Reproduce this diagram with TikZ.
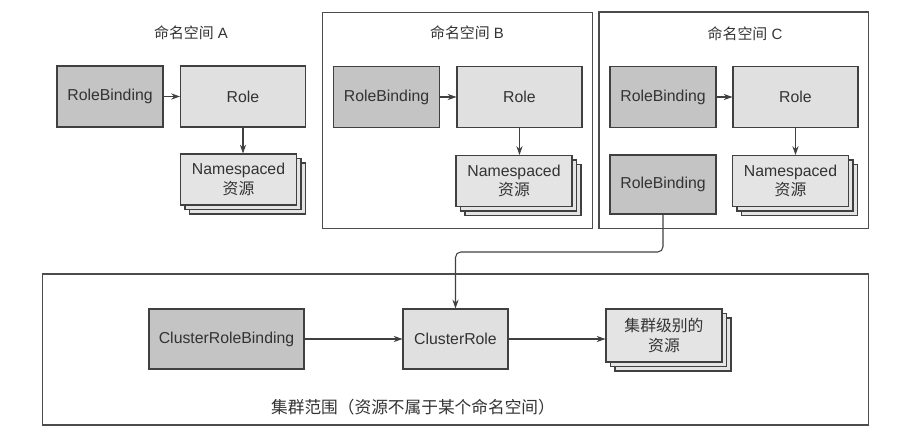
\documentclass[tikz,border=0pt]{standalone}
\usepackage{fontspec}
\setmainfont{Liberation Sans}
\newfontfamily\cjk{Noto Sans CJK SC}
\usetikzlibrary{arrows.meta,shadows}

\definecolor{inkgray}{HTML}{333333}
\definecolor{bindfill}{HTML}{C4C4C4}
\definecolor{rolefill}{HTML}{E0E0E0}
\definecolor{resfill}{HTML}{E4E4E4}

\tikzset{
  box/.style={draw=black!75,line width=0.6pt,text=inkgray,inner sep=0pt,
    align=center,font=\fontsize{9}{11}\selectfont},
  binding/.style={box,fill=bindfill,minimum width=2.12cm,minimum height=1.22cm},
  role/.style={box,fill=rolefill,minimum width=2.5cm,minimum height=1.22cm},
  sheet/.style={shadow scale=1,shadow xshift=#1,shadow yshift=-#1,
    fill=resfill,draw=black!75,line width=0.6pt},
  res/.style={box,fill=resfill,minimum width=2.32cm,minimum height=1.02cm,
    general shadow={sheet=0.18cm},general shadow={sheet=0.09cm}},
  area/.style={draw=black!70,line width=0.8pt,inner sep=0pt},
  nstitle/.style={text=inkgray,font=\fontsize{8.5}{10}\selectfont},
  link/.style={->,color=black!75,line width=0.6pt},
}

\begin{document}
\begin{tikzpicture}[x=0.02cm,y=-0.02cm,>={Stealth[length=5pt,width=3.5pt]}]
  \useasboundingbox (0,0) rectangle (916,439);
  % namespace and cluster frames
  \node[area,minimum width=5.4cm,minimum height=4.32cm] (NSB) at (457.7,120.3) {};
  \node[area,minimum width=5.39cm,minimum height=4.33cm] (NSC) at (733.8,120.3) {};
  \node[area,minimum width=16.52cm,minimum height=3.02cm] (CLU) at (455.7,349.5) {};
  \node[nstitle] (TA) at (191,33) {{\cjk 命名空间} A};
  \node[nstitle] (TB) at (467,33) {{\cjk 命名空间} B};
  \node[nstitle] (TC) at (745,34) {{\cjk 命名空间} C};

  % namespace A
  \node[binding] (RBA) at (110,96.5) {RoleBinding};
  \node[role] (RA) at (243,96.5) {Role};
  \node[res] (NA) at (238.5,179.5) {Namespaced\\{\cjk 资源}};
  % namespace B
  \node[binding] (RBB) at (386.5,97) {RoleBinding};
  \node[role] (RB) at (519.5,97) {Role};
  \node[res] (NB) at (514,181) {Namespaced\\{\cjk 资源}};
  % namespace C
  \node[binding] (RBC) at (663,97) {RoleBinding};
  \node[role] (RC) at (795.5,97) {Role};
  \node[binding,minimum height=1.18cm] (RBC2) at (663,184.5) {RoleBinding};
  \node[res] (NC) at (790.5,181) {Namespaced\\{\cjk 资源}};

  % cluster level
  \node[binding,minimum width=3.1cm,minimum height=1.2cm] (CRB) at (226.5,339) {ClusterRoleBinding};
  \node[role,minimum width=2.1cm,minimum height=1.2cm] (CR) at (455.5,339) {ClusterRole};
  \node[res,minimum height=1.06cm] (CRES) at (664,335.5) {{\cjk 集群级别的}\\{\cjk 资源}};
  \node[nstitle,font=\fontsize{9.5}{11}\selectfont] (CLT) at (413,407)
    {\cjk 集群范围（资源不属于某个命名空间）};

  \path[link] (RBA) edge (RA) (RA.south) edge (RA.south |- NA.north);
  \path[link] (RBB) edge (RB) (RB.south) edge (RB.south |- NB.north);
  \path[link] (RBC) edge (RC) (RC.south) edge (RC.south |- NC.north);
  \path[link] (CRB) edge (CR) (CR.east) edge (CR.east -| CRES.west);
  \coordinate (turn) at (CR.north |- 0,252);
  \draw[link,rounded corners=3pt] (RBC2.south) |- (turn) -- (CR.north);
\end{tikzpicture}
\end{document}
